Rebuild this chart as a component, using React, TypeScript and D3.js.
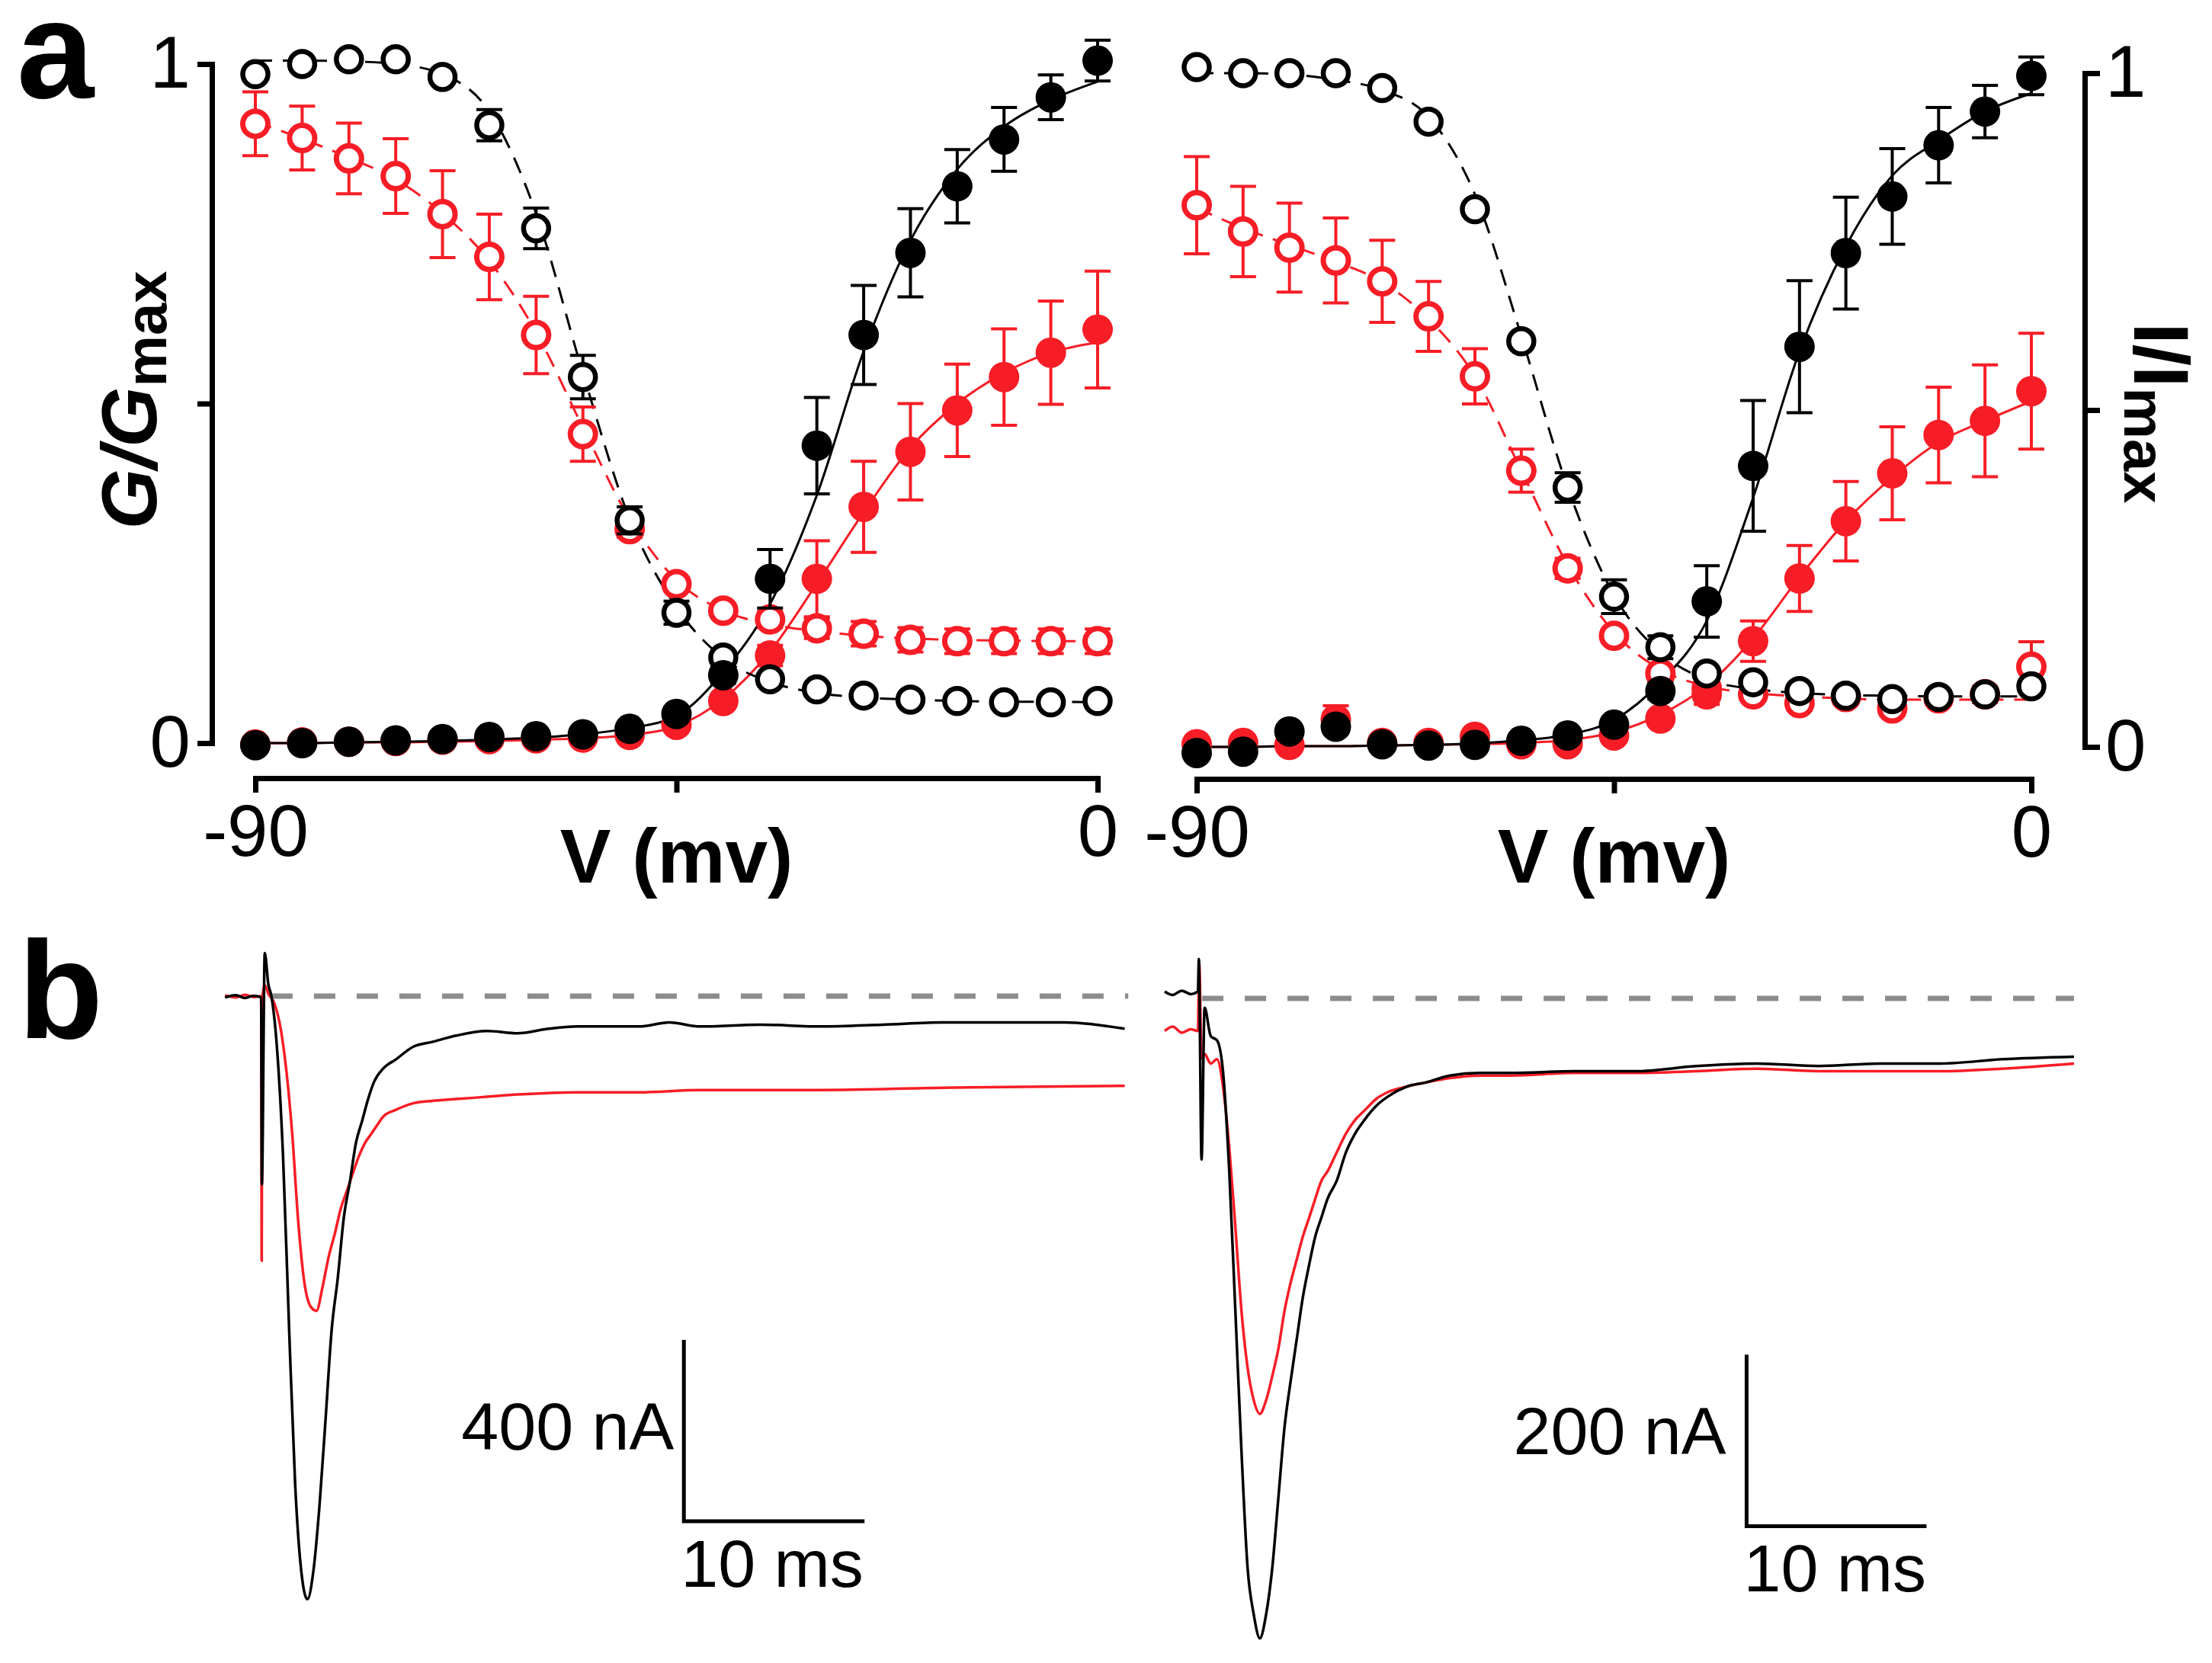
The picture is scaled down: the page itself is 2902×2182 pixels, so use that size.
import React, { useRef, useEffect } from 'react';
import * as d3 from 'd3';

// ---- panel a : voltage steps (mV) ----
const voltages = [-90, -85, -80, -75, -70, -65, -60, -55, -50, -45, -40, -35, -30, -25, -20, -15, -10, -5, 0];

// left panel (G/Gmax), control = black, red = treated
const leftActCtrl = [-0.003, 0, 0.002, 0.004, 0.006, 0.009, 0.010, 0.013, 0.021, 0.043, 0.100, 0.242, 0.438, 0.601, 0.722, 0.820, 0.889, 0.951, 1.005];
const leftActCtrlErr = [0.004, 0.004, 0.004, 0.004, 0.004, 0.004, 0.004, 0.004, 0.005, 0.006, 0.012, 0.043, 0.071, 0.073, 0.065, 0.054, 0.047, 0.033, 0.030];
const leftActRed = [-0.002, 0.001, 0.002, 0.003, 0.005, 0.006, 0.007, 0.008, 0.012, 0.027, 0.062, 0.129, 0.242, 0.348, 0.429, 0.490, 0.539, 0.575, 0.609];
const leftActRedErr = [0.004, 0.004, 0.004, 0.004, 0.004, 0.004, 0.004, 0.004, 0.004, 0.006, 0.008, 0.015, 0.056, 0.067, 0.071, 0.068, 0.071, 0.076, 0.086];
const leftInactCtrl = [0.985, 1.0, 1.007, 1.007, 0.981, 0.910, 0.758, 0.539, 0.328, 0.192, 0.126, 0.094, 0.079, 0.070, 0.064, 0.062, 0.060, 0.060, 0.062];
const leftInactCtrlErr = [0.005, 0.005, 0.005, 0.005, 0.006, 0.023, 0.030, 0.032, 0.020, 0.017, 0.008, 0.006, 0.005, 0.005, 0.005, 0.005, 0.005, 0.005, 0.005];
const leftInactRed = [0.912, 0.891, 0.861, 0.835, 0.779, 0.716, 0.601, 0.455, 0.315, 0.234, 0.195, 0.182, 0.169, 0.161, 0.152, 0.150, 0.150, 0.150, 0.150];
const leftInactRedErr = [0.047, 0.047, 0.052, 0.055, 0.064, 0.063, 0.057, 0.040, 0.012, 0.010, 0.010, 0.012, 0.015, 0.018, 0.018, 0.018, 0.018, 0.018, 0.018];
// fitted curves (at each step)
const leftActCtrlFit = [0.0, 0.0, 0.001, 0.002, 0.003, 0.005, 0.008, 0.013, 0.022, 0.040, 0.105, 0.205, 0.365, 0.577, 0.740, 0.845, 0.908, 0.947, 0.974];
const leftActRedFit = [0.0, 0.0, 0.001, 0.001, 0.002, 0.003, 0.005, 0.007, 0.012, 0.025, 0.065, 0.135, 0.235, 0.340, 0.435, 0.500, 0.545, 0.575, 0.590];
const leftInactCtrlFit = [1.005, 1.005, 1.004, 1.0, 0.985, 0.930, 0.780, 0.545, 0.330, 0.200, 0.125, 0.090, 0.074, 0.067, 0.064, 0.062, 0.061, 0.061, 0.060];
const leftInactRedFit = [0.915, 0.890, 0.862, 0.830, 0.780, 0.710, 0.605, 0.465, 0.330, 0.240, 0.195, 0.175, 0.165, 0.158, 0.154, 0.152, 0.151, 0.150, 0.150];

// right panel (I/Imax)
const rightActCtrl = [-0.009, -0.007, 0.023, 0.030, 0.004, 0.002, 0.003, 0.009, 0.017, 0.033, 0.083, 0.216, 0.417, 0.594, 0.733, 0.817, 0.893, 0.943, 0.996];
const rightActCtrlErr = [0.004, 0.004, 0.004, 0.004, 0.004, 0.004, 0.004, 0.004, 0.004, 0.006, 0.012, 0.053, 0.097, 0.098, 0.083, 0.071, 0.056, 0.039, 0.028];
const rightActRed = [0.004, 0.006, 0.003, 0.041, 0.006, 0.006, 0.015, 0.004, 0.004, 0.017, 0.042, 0.078, 0.157, 0.250, 0.335, 0.406, 0.463, 0.484, 0.528];
const rightActRedErr = [0.004, 0.004, 0.004, 0.020, 0.004, 0.004, 0.006, 0.004, 0.004, 0.006, 0.010, 0.015, 0.030, 0.049, 0.059, 0.069, 0.071, 0.083, 0.086];
const rightInactCtrl = [1.009, 1.0, 1.0, 1.0, 0.978, 0.928, 0.798, 0.602, 0.385, 0.223, 0.148, 0.109, 0.096, 0.083, 0.076, 0.071, 0.074, 0.078, 0.090];
const rightInactCtrlErr = [0.005, 0.005, 0.005, 0.005, 0.005, 0.005, 0.006, 0.008, 0.022, 0.025, 0.017, 0.008, 0.006, 0.005, 0.005, 0.005, 0.005, 0.005, 0.005];
const rightInactRed = [0.804, 0.765, 0.741, 0.722, 0.691, 0.639, 0.550, 0.410, 0.265, 0.165, 0.109, 0.087, 0.078, 0.065, 0.074, 0.057, 0.072, 0.078, 0.119];
const rightInactRedErr = [0.072, 0.067, 0.066, 0.063, 0.061, 0.052, 0.041, 0.032, 0.015, 0.010, 0.010, 0.010, 0.010, 0.010, 0.010, 0.010, 0.010, 0.012, 0.037];
const rightActCtrlFit = [0.0, 0.0, 0.001, 0.001, 0.002, 0.003, 0.005, 0.010, 0.018, 0.040, 0.096, 0.187, 0.370, 0.587, 0.743, 0.848, 0.900, 0.943, 0.970];
const rightActRedFit = [0.0, 0.0, 0.001, 0.001, 0.002, 0.003, 0.004, 0.006, 0.010, 0.022, 0.048, 0.091, 0.161, 0.252, 0.335, 0.400, 0.452, 0.484, 0.513];
const rightInactCtrlFit = [1.0, 1.0, 0.998, 0.990, 0.975, 0.935, 0.820, 0.610, 0.385, 0.225, 0.140, 0.100, 0.086, 0.080, 0.077, 0.076, 0.075, 0.075, 0.075];
const rightInactRedFit = [0.800, 0.770, 0.745, 0.720, 0.690, 0.635, 0.550, 0.410, 0.270, 0.170, 0.115, 0.090, 0.080, 0.075, 0.072, 0.070, 0.070, 0.070, 0.070];

const yTicks = [0, 0.5, 1];
const xTicks = [-90, -45, 0];

// ---- panel b : current traces [time ms, current nA] ----
const leftCtrlTrace: [number, number][] = [[-2.1, -3], [-1.5, 2], [-1.0, -4], [-0.5, 1], [-0.1, -3], [-0.06, -415], [0.1, 95], [0.3, 25], [0.44, 5], [0.77, -111], [1.11, -352], [1.45, -737], [1.78, -1075], [2.12, -1268], [2.46, -1330], [2.79, -1268], [3.13, -1123], [3.47, -930], [3.80, -737], [4.14, -622], [4.48, -487], [4.81, -410], [5.15, -323], [5.49, -275], [5.82, -227], [6.16, -188], [6.67, -159], [7.34, -140], [8.35, -111], [9.36, -101], [10.7, -87], [12.4, -77], [14.1, -82], [15.8, -72], [17.4, -67], [20.8, -67], [22.5, -58], [24.2, -67], [27.5, -63], [30.9, -67], [34.3, -63], [37.6, -58], [41.0, -58], [44.4, -58], [47.7, -72]];
const leftRedTrace: [number, number][] = [[-2.1, 2], [-1.5, -3], [-1.0, 3], [-0.5, -2], [-0.1, 0], [-0.07, -583], [-0.04, -10], [0.1, 24], [0.3, 5], [0.61, -14], [0.94, -63], [1.28, -159], [1.62, -304], [1.95, -496], [2.29, -631], [2.63, -684], [2.96, -694], [3.30, -641], [3.64, -574], [3.97, -525], [4.31, -468], [4.65, -429], [4.98, -390], [5.32, -352], [5.66, -323], [5.99, -304], [6.33, -284], [6.67, -265], [7.34, -251], [8.35, -236], [9.36, -231], [10.7, -227], [12.4, -222], [14.1, -217], [17.4, -212], [20.8, -212], [24.2, -207], [30.9, -207], [37.6, -202], [47.7, -198]];
const rightCtrlTrace: [number, number][] = [[-1.95, 8], [-1.5, 4], [-1.0, 9], [-0.5, 5], [-0.1, 8], [-0.05, 46], [0.1, -188], [0.27, -11], [0.61, -44], [0.96, -49], [1.30, -87], [1.64, -202], [1.98, -365], [2.32, -529], [2.66, -665], [3.00, -719], [3.34, -747], [3.69, -719], [4.03, -665], [4.37, -583], [4.71, -501], [5.05, -447], [5.39, -398], [5.73, -349], [6.08, -311], [6.42, -278], [6.76, -256], [7.10, -234], [7.61, -213], [8.12, -180], [8.63, -158], [9.15, -142], [9.83, -125], [10.5, -114], [11.5, -103], [12.6, -98], [13.9, -90], [15.6, -87], [17.3, -87], [20.8, -85], [24.2, -85], [27.6, -79], [31.0, -76], [34.4, -79], [37.8, -76], [41.2, -76], [44.6, -71], [48.6, -68]];
const rightRedTrace: [number, number][] = [[-1.95, -38], [-1.5, -33], [-1.0, -40], [-0.5, -36], [-0.1, -38], [-0.03, 40], [0.1, -70], [0.27, -65], [0.61, -76], [0.96, -71], [1.30, -104], [1.64, -174], [1.98, -267], [2.32, -365], [2.66, -431], [3.00, -469], [3.34, -485], [3.69, -469], [4.03, -441], [4.37, -409], [4.71, -365], [5.05, -332], [5.39, -305], [5.73, -278], [6.08, -256], [6.42, -234], [6.76, -213], [7.10, -202], [7.61, -180], [8.12, -158], [8.63, -142], [9.15, -131], [9.83, -117], [10.5, -109], [11.5, -103], [12.6, -98], [13.9, -93], [15.6, -90], [17.3, -90], [20.8, -87], [24.2, -87], [27.6, -85], [31.0, -82], [34.4, -85], [37.8, -85], [41.2, -85], [44.6, -82], [48.6, -76]];
// scale bars: [time of vertical bar, top current, bar nA, bar ms]
const leftScaleBar = [23.3, -758, 400, 10];
const rightScaleBar = [30.4, -416, 200, 10];
const leftBaseline = [0.46, 47.9];
const rightBaseline = [0.13, 48.6];

const RED = '#f71d26';
const FONT = '"Liberation Sans", Arial, Helvetica, sans-serif';

type Series = { y: number[]; err?: number[]; color: string; filled: boolean };
type Fit = { y: number[]; color: string; dashed: boolean };

function drawPanel(
    svg: d3.Selection<SVGSVGElement, unknown, null, undefined>,
    xRange: [number, number], yRange: [number, number], yAxisX: number, xAxisY: number,
    side: 'left' | 'right', fits: Fit[], series: Series[]
) {
    const x = d3.scaleLinear().domain([-90, 0]).range(xRange);
    const y = d3.scaleLinear().domain([0, 1]).range(yRange);
    const g = svg.append('g');

    const line = d3.line<number>()
        .x((_, i) => x(voltages[i]))
        .y(d => y(d))
        .curve(d3.curveMonotoneX);

    fits.forEach(f => {
        g.append('path')
            .attr('d', line(f.y))
            .attr('fill', 'none')
            .attr('stroke', f.color)
            .attr('stroke-width', 3)
            .attr('stroke-dasharray', f.dashed ? '22,14' : null);
    });

    series.forEach(s => {
        const sg = g.append('g');
        if (s.err) {
            voltages.forEach((v, i) => {
                const e = s.err![i];
                const cx = x(v);
                const y0 = y(s.y[i] - e), y1 = y(s.y[i] + e);
                sg.append('line').attr('x1', cx).attr('x2', cx).attr('y1', y0).attr('y2', y1)
                    .attr('stroke', s.color).attr('stroke-width', 4);
                [y0, y1].forEach(yy => sg.append('line')
                    .attr('x1', cx - 17).attr('x2', cx + 17).attr('y1', yy).attr('y2', yy)
                    .attr('stroke', s.color).attr('stroke-width', 4));
            });
        }
        sg.selectAll('circle')
            .data(s.y)
            .join('circle')
            .attr('cx', (_, i) => x(voltages[i]))
            .attr('cy', d => y(d))
            .attr('r', s.filled ? 20 : 16.5)
            .attr('fill', s.filled ? s.color : '#fff')
            .attr('stroke', s.filled ? 'none' : s.color)
            .attr('stroke-width', s.color === RED ? 7 : 6.5);
    });

    const axisStyle = (a: d3.Selection<SVGGElement, unknown, null, undefined>) => {
        a.selectAll('path').attr('stroke-width', 7).attr('stroke-linecap', 'square');
        a.selectAll('line').attr('stroke-width', 7);
        a.selectAll('text').attr('font-size', 96).attr('font-family', FONT).attr('fill', '#000');
    };

    const yAxis = side === 'left'
        ? d3.axisLeft(y).tickValues(yTicks).tickSize(19).tickSizeOuter(0).tickPadding(9)
        : d3.axisRight(y).tickValues(yTicks).tickSize(20).tickSizeOuter(0).tickPadding(7);
    yAxis.tickFormat(d => (d === 0.5 ? '' : String(d)));
    g.append('g')
        .attr('transform', `translate(${yAxisX},0)`)
        .call(yAxis)
        .call(axisStyle)
        .call(a => a.selectAll('text').attr('dy', '0.32em'));

    g.append('g')
        .attr('transform', `translate(0,${xAxisY})`)
        .call(d3.axisBottom(x).tickValues(xTicks).tickSize(19).tickSizeOuter(0).tickPadding(15)
            .tickFormat(d => (d === -45 ? '' : String(d))))
        .call(axisStyle);

    g.append('text')
        .attr('x', (xRange[0] + xRange[1]) / 2)
        .attr('y', 1158)
        .attr('text-anchor', 'middle')
        .attr('font-family', FONT)
        .attr('font-weight', 'bold')
        .attr('font-size', 100)
        .text('V (mv)');
}

function drawTraces(
    svg: d3.Selection<SVGSVGElement, unknown, null, undefined>,
    t0: number, msPx: number, yBase: number, nAPx: number,
    ctrl: [number, number][], red: [number, number][], baseline: number[], bar: number[],
    barLabel: string, labelGap: number
) {
    const x = d3.scaleLinear().domain([0, 10]).range([t0, t0 + 10 * msPx]);
    const y = d3.scaleLinear().domain([0, -100]).range([yBase, yBase + 100 * nAPx]);
    const g = svg.append('g');
    const line = d3.line<[number, number]>().x(d => x(d[0])).y(d => y(d[1])).curve(d3.curveMonotoneX);

    g.append('line')
        .attr('x1', x(baseline[0])).attr('x2', x(baseline[1]))
        .attr('y1', y(0)).attr('y2', y(0))
        .attr('stroke', '#8c8c8c').attr('stroke-width', 7).attr('stroke-dasharray', '28,28');

    g.append('path').attr('d', line(red)).attr('fill', 'none').attr('stroke', RED).attr('stroke-width', 3.5);
    g.append('path').attr('d', line(ctrl)).attr('fill', 'none').attr('stroke', '#000').attr('stroke-width', 3.5);

    const [bt, btop, bnA, bms] = bar;
    const bx = x(bt), by0 = y(btop), by1 = y(btop - bnA), bx1 = x(bt + bms);
    g.append('path')
        .attr('d', `M${bx},${by0}V${by1}H${bx1}`)
        .attr('fill', 'none').attr('stroke', '#000').attr('stroke-width', 5);
    g.append('text')
        .attr('x', bx - labelGap).attr('y', by1 - 94)
        .attr('text-anchor', 'end')
        .attr('font-family', FONT).attr('font-size', 88)
        .text(barLabel);
    g.append('text')
        .attr('x', bx - 4).attr('y', by1 + 86)
        .attr('font-family', FONT).attr('font-size', 88)
        .text(`${bms} ms`);
}

function App() {
    const svgRef = useRef<SVGSVGElement | null>(null);

    useEffect(() => {
        if (!svgRef.current) return;
        const svg = d3.select(svgRef.current);
        svg.selectAll('*').remove();

        drawPanel(svg, [335, 1440], [975, 84], 278, 1021, 'left',
            [
                { y: leftInactRedFit, color: RED, dashed: true },
                { y: leftActRedFit, color: RED, dashed: false },
                { y: leftInactCtrlFit, color: '#000', dashed: true },
                { y: leftActCtrlFit, color: '#000', dashed: false },
            ],
            [
                { y: leftInactRed, err: leftInactRedErr, color: RED, filled: false },
                { y: leftActRed, err: leftActRedErr, color: RED, filled: true },
                { y: leftInactCtrl, err: leftInactCtrlErr, color: '#000', filled: false },
                { y: leftActCtrl, err: leftActCtrlErr, color: '#000', filled: true },
            ]);

        drawPanel(svg, [1570, 2665], [980, 96], 2735, 1022, 'right',
            [
                { y: rightInactRedFit, color: RED, dashed: true },
                { y: rightActRedFit, color: RED, dashed: false },
                { y: rightInactCtrlFit, color: '#000', dashed: true },
                { y: rightActCtrlFit, color: '#000', dashed: false },
            ],
            [
                { y: rightInactRed, err: rightInactRedErr, color: RED, filled: false },
                { y: rightActRed, err: rightActRedErr, color: RED, filled: true },
                { y: rightInactCtrl, err: rightInactCtrlErr, color: '#000', filled: false },
                { y: rightActCtrl, err: rightActCtrlErr, color: '#000', filled: true },
            ]);

        // axis titles
        const lt = svg.append('text')
            .attr('transform', 'translate(205,525) rotate(-90)')
            .attr('text-anchor', 'middle')
            .attr('font-family', FONT).attr('font-weight', 'bold').attr('font-size', 102);
        lt.append('tspan').attr('font-style', 'italic').text('G/G');
        lt.append('tspan').attr('font-size', 76).attr('dy', 13).text('max');

        const rt = svg.append('text')
            .attr('transform', 'translate(2800,542) rotate(90)')
            .attr('text-anchor', 'middle')
            .attr('font-family', FONT).attr('font-weight', 'bold').attr('font-size', 102);
        rt.append('tspan').text('I/I');
        rt.append('tspan').attr('font-size', 76).attr('dy', 13).text('max');

        // panel letters
        svg.append('text').attr('x', 22).attr('y', 128)
            .attr('font-family', FONT).attr('font-weight', 'bold').attr('font-size', 182).text('a');
        svg.append('text').attr('x', 24).attr('y', 1362)
            .attr('font-family', FONT).attr('font-weight', 'bold').attr('font-size', 182).text('b');

        drawTraces(svg, 345, 23.7, 1307, 0.595, leftCtrlTrace, leftRedTrace, leftBaseline, leftScaleBar, '400 nA', 13);
        drawTraces(svg, 1574, 23.6, 1310, 1.124, rightCtrlTrace, rightRedTrace, rightBaseline, rightScaleBar, '200 nA', 27);
    }, []);

    return (
        <svg ref={svgRef} width={2902} height={2182} viewBox="0 0 2902 2182"
            style={{ position: 'absolute', left: 0, top: 0, background: '#fff' }} />
    );
}

export default App;
